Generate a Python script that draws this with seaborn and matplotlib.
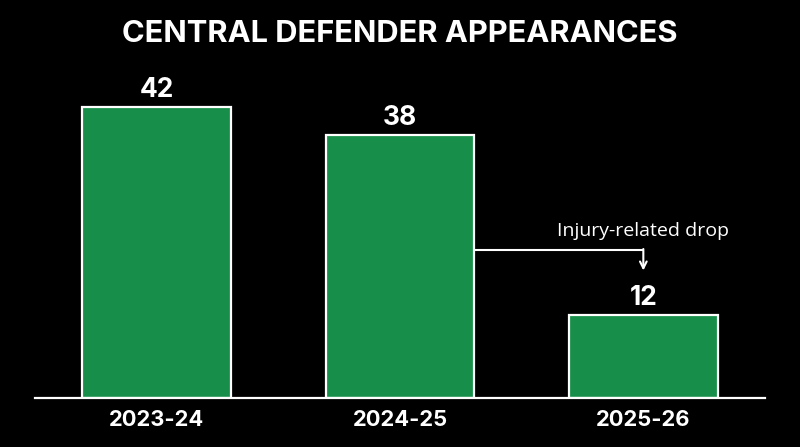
import matplotlib
matplotlib.use("Agg")
import matplotlib.pyplot as plt
import seaborn as sns
import pandas as pd

seasons = ["2023-24", "2024-25", "2025-26"]
appearances = [42, 38, 12]
title = "CENTRAL DEFENDER APPEARANCES"
note = "Injury-related drop"

sns.set_theme(style="dark")
plt.rcParams['font.family'] = ['Inter', 'DejaVu Sans']

df = pd.DataFrame({"season": seasons, "apps": appearances})

fig = plt.figure(figsize=(8, 4.47), dpi=100, facecolor="black")
ax = fig.add_axes([35/800, 49/447, 730/800, 338/447])
ax.set_facecolor("black")

sns.barplot(data=df, x="season", y="apps", color="#178f4a", saturation=1,
            width=0.61, edgecolor="white", linewidth=1.6, ax=ax)

ax.set_xlim(-0.5, 2.5)
ax.set_ylim(0, 338/6.93)
for s in ["top", "right", "left"]:
    ax.spines[s].set_visible(False)
ax.spines["bottom"].set_visible(True)
ax.spines["bottom"].set_color("white")
ax.spines["bottom"].set_linewidth(1.6)
ax.set_yticks([])
ax.grid(False)
ax.set_xlabel("")
ax.set_ylabel("")
ax.tick_params(axis="x", length=0, pad=9, colors="white")
for lab in ax.get_xticklabels():
    lab.set_fontsize(15.8)
    lab.set_fontweight("bold")
    lab.set_color("white")

for i, v in enumerate(appearances):
    ax.text(i, v + 0.6, str(v), ha="center", va="bottom", color="white",
            fontsize=19, fontweight="bold")

# annotation
bar_half = 0.61 / 2
y_line = 21.4
ax.plot([1 + bar_half, 2], [y_line, y_line], color="white", lw=1.5,
        solid_capstyle="butt")
ax.annotate("", xy=(2, 18.4), xytext=(2, y_line + 0.1),
            arrowprops=dict(arrowstyle="->", color="white", lw=1.5,
                            shrinkA=0, shrinkB=0, mutation_scale=12))
ax.text(2, y_line + 1.4, note, ha="center", va="bottom", color="white",
        fontsize=14, family=["Open Sans", "DejaVu Sans"])

fig.text(0.5, 1 - 34/447, title, ha="center", va="center", color="white",
         fontsize=22.2, fontweight="bold")

fig.savefig("out.png", dpi=100, facecolor="black")
